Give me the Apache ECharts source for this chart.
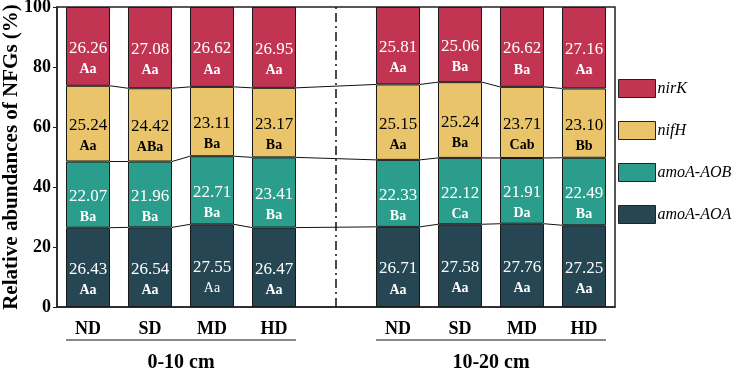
<!DOCTYPE html>
<html>
<head>
<meta charset="utf-8">
<script src="https://cdn.jsdelivr.net/npm/echarts@6/dist/echarts.min.js"></script>
<style>
  html, body { margin: 0; padding: 0; background: #fff; }
  #main { width: 735px; height: 372px; }
</style>
</head>
<body>
<div id="main"></div>
<script>
// categories: 4 treatments per depth, blank slot in the middle as separator
const categories = ['ND', 'SD', 'MD', 'HD', '', 'ND', 'SD', 'MD', 'HD'];
const depthGroups = ['0-10 cm', '10-20 cm'];
const yTicks = [0, 20, 40, 60, 80, 100];

const aoa  = [26.43, 26.54, 27.55, 26.47, '-', 26.71, 27.58, 27.76, 27.25];
const aob  = [22.07, 21.96, 22.71, 23.41, '-', 22.33, 22.12, 21.91, 22.49];
const nifH = [25.24, 24.42, 23.11, 23.17, '-', 25.15, 25.24, 23.71, 23.10];
const nirK = [26.26, 27.08, 26.62, 26.95, '-', 25.81, 25.06, 26.62, 27.16];

const aoaLetters  = ['Aa', 'Aa', 'Aa', 'Aa', '', 'Aa', 'Aa', 'Aa', 'Aa'];
const aobLetters  = ['Ba', 'Ba', 'Ba', 'Ba', '', 'Ba', 'Ca', 'Da', 'Ba'];
const nifHLetters = ['Aa', 'ABa', 'Ba', 'Ba', '', 'Aa', 'Ba', 'Cab', 'Bb'];
const nirKLetters = ['Aa', 'Aa', 'Aa', 'Aa', '', 'Aa', 'Ba', 'Ba', 'Aa'];
// one letter in the original figure is printed in regular weight
const aoaPlain = [false, false, true, false, false, false, false, false, false];

const serif = 'Liberation Serif';
const colors = { aoa: '#264653', aob: '#2A9D8C', nifH: '#E9C46B', nirK: '#C13552' };
const BAR_RATIO = 0.71;

const chart = echarts.init(document.getElementById('main'));

function makeBar(name, data, letters, color, textColor, plain) {
  return {
    name: name,
    type: 'bar',
    stack: 'total',
    barWidth: (BAR_RATIO * 100) + '%',
    data: data,
    itemStyle: { color: color, borderColor: '#1a1a1a', borderWidth: 1 },
    label: {
      show: true,
      position: 'inside',
      offset: [0, 12],
      fontFamily: serif,
      fontSize: 17,
      color: textColor,
      formatter: function (p) {
        const style = plain && plain[p.dataIndex] ? 'lp' : 'l';
        return '{n|' + p.value.toFixed(2) + '}\n{' + style + '|' + letters[p.dataIndex] + '}';
      },
      rich: {
        n: { fontFamily: serif, fontSize: 17, color: textColor, lineHeight: 22 },
        l: { fontFamily: serif, fontSize: 14, fontWeight: 'bold', color: textColor, lineHeight: 20 },
        lp: { fontFamily: serif, fontSize: 14, fontWeight: 'normal', color: textColor, lineHeight: 20 }
      }
    }
  };
}

// cumulative boundaries for connector lines
const layers = [aoa, aob, nifH];
const valid = categories.map((c, i) => aoa[i] !== '-' ? i : -1).filter(i => i >= 0);
const cum = categories.map((c, i) => {
  let s = 0;
  return layers.map(arr => (arr[i] === '-' ? null : (s += arr[i])));
});
const connectors = [];
for (let k = 0; k < layers.length; k++) {
  for (let j = 0; j < valid.length - 1; j++) {
    const a = valid[j], b = valid[j + 1];
    connectors.push([a, cum[a][k], b, cum[b][k]]);
  }
}

chart.setOption({
  animation: false,
  grid: {
    left: 57, right: 120, top: 7, bottom: 65,
    outerBoundsMode: 'none',
    containLabel: false,
    show: true, borderColor: '#222', borderWidth: 1.5
  },
  legend: {
    orient: 'vertical',
    left: 613,
    top: 74,
    itemWidth: 37,
    itemHeight: 18,
    itemGap: 23,
    icon: 'rect',
    data: ['nirK', 'nifH', 'amoA-AOB', 'amoA-AOA'],
    itemStyle: { borderColor: '#222', borderWidth: 1 },
    textStyle: { fontFamily: serif, fontStyle: 'italic', fontSize: 16, color: '#000', padding: [0, 0, 0, -3] }
  },
  xAxis: {
    type: 'category',
    data: categories,
    axisLine: { show: true, lineStyle: { color: '#222', width: 1.5 } },
    axisTick: { show: false },
    axisLabel: { fontFamily: serif, fontWeight: 'bold', fontSize: 18, color: '#000', margin: 13 }
  },
  yAxis: {
    type: 'value',
    min: yTicks[0],
    max: yTicks[yTicks.length - 1],
    interval: 20,
    name: 'Relative abundances of NFGs (%)',
    nameLocation: 'middle',
    nameGap: 45,
    nameMoveOverlap: false,
    nameTextStyle: { fontFamily: serif, fontWeight: 'bold', fontSize: 21, color: '#000', verticalAlign: 'middle' },
    axisLine: { show: true, lineStyle: { color: '#222', width: 1.5 } },
    axisTick: { show: true, length: 4, lineStyle: { color: '#222' } },
    splitLine: { show: false },
    axisLabel: { fontFamily: serif, fontWeight: 'bold', fontSize: 18, color: '#000', margin: 6 }
  },
  series: [
    makeBar('amoA-AOA', aoa, aoaLetters, colors.aoa, '#fff', aoaPlain),
    makeBar('amoA-AOB', aob, aobLetters, colors.aob, '#fff'),
    makeBar('nifH', nifH, nifHLetters, colors.nifH, '#000'),
    makeBar('nirK', nirK, nirKLetters, colors.nirK, '#fff'),
    {
      type: 'custom',
      name: 'connectors',
      data: connectors,
      encode: { x: 0, y: 1 },
      silent: true,
      z: 5,
      renderItem: function (params, api) {
        const p1 = api.coord([api.value(0), api.value(1)]);
        const p2 = api.coord([api.value(2), api.value(3)]);
        const half = api.size([1, 0])[0] * BAR_RATIO / 2;
        return {
          type: 'line',
          shape: { x1: p1[0] + half, y1: p1[1], x2: p2[0] - half, y2: p2[1] },
          style: { stroke: '#111', lineWidth: 1 }
        };
      },
      markLine: {
        silent: true,
        symbol: 'none',
        label: { show: false },
        lineStyle: { color: '#111', width: 1.5, type: [9, 4, 2, 4] },
        data: [{ xAxis: 4 }]
      }
    }
  ]
});

// group underlines and depth labels below the x axis
const half = (chart.convertToPixel({ xAxisIndex: 0 }, 1) - chart.convertToPixel({ xAxisIndex: 0 }, 0)) * BAR_RATIO / 2;
const baseY = chart.convertToPixel({ yAxisIndex: 0 }, 0);
const groupRanges = [[0, 3], [5, 8]];
const graphics = [];
groupRanges.forEach((r, gi) => {
  const x1 = chart.convertToPixel({ xAxisIndex: 0 }, r[0]) - half;
  const x2 = chart.convertToPixel({ xAxisIndex: 0 }, r[1]) + half;
  graphics.push({
    type: 'line',
    shape: { x1: x1, y1: baseY + 33, x2: x2, y2: baseY + 33 },
    style: { stroke: '#111', lineWidth: 1.2 }
  });
  graphics.push({
    type: 'text',
    x: (x1 + x2) / 2,
    y: baseY + 56,
    style: {
      text: depthGroups[gi],
      fontFamily: serif, fontWeight: 'bold', fontSize: 20, fill: '#000',
      align: 'center', verticalAlign: 'middle'
    }
  });
});
chart.setOption({ graphic: graphics });
</script>
</body>
</html>
